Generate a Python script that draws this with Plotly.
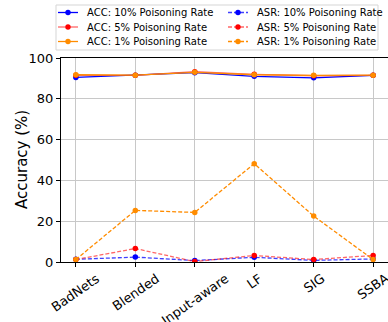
import plotly.graph_objects as go

attacks = ["BadNets", "Blended", "Input-aware", "LF", "SIG", "SSBA"]
acc_10 = [90.5, 91.5, 92.8, 91.0, 90.3, 91.5]
acc_5 = [91.5, 91.5, 93.3, 92.0, 91.3, 91.5]
acc_1 = [91.8, 91.6, 93.0, 91.8, 91.5, 91.6]
asr_10 = [1.3, 2.4, 0.7, 2.3, 0.8, 1.5]
asr_5 = [1.2, 6.6, 0.2, 3.2, 1.2, 3.2]
asr_1 = [1.2, 25.3, 24.3, 48.2, 22.5, 1.2]

series = [
    ("ACC: 10% Poisoning Rate", acc_10, "solid", "rgba(0,0,255,1)", "blue"),
    ("ACC: 5% Poisoning Rate", acc_5, "solid", "rgba(255,0,0,0.6)", "red"),
    ("ACC: 1% Poisoning Rate", acc_1, "solid", "rgba(255,140,0,1)", "darkorange"),
    ("ASR: 10% Poisoning Rate", asr_10, "dash", "rgba(0,0,255,0.75)", "blue"),
    ("ASR: 5% Poisoning Rate", asr_5, "dash", "rgba(255,0,0,0.6)", "red"),
    ("ASR: 1% Poisoning Rate", asr_1, "dash", "rgba(255,140,0,1)", "darkorange"),
]
DASH = "4px,2px"

# plot-area geometry in pixels
W, H = 388, 322
ML, MR, MT, MB = 61, 0, 58, 60
PW, PH = W - ML - MR, H - MT - MB


def px_x(p):
    return (p - ML) / PW


def px_y(p):
    return (H - MB - p) / PH


fig = go.Figure()
for name, vals, dash, lc, mc in series:
    fig.add_trace(go.Scatter(
        x=attacks, y=vals, name=name, mode="lines+markers", showlegend=False,
        line=dict(color=lc, width=1.3, dash=dash if dash == "solid" else DASH),
        marker=dict(color=mc, size=5.5),
    ))

# centred, rotated category labels (matplotlib-style)
for a in attacks:
    fig.add_annotation(
        x=a, xref="x", y=0, yref="paper", yanchor="top", xanchor="center",
        yshift=-6, text=a, textangle=-35, showarrow=False,
        font=dict(size=13, family="DejaVu Sans", color="black"),
    )

# y-axis title
fig.add_annotation(
    x=px_x(22), y=0.5, xref="paper", yref="paper", xanchor="center", yanchor="middle",
    text="Accuracy (%)", textangle=-90, showarrow=False,
    font=dict(size=15, family="DejaVu Sans", color="black"),
)

# legend box (two columns, three rows)
shapes = [dict(type="rect", xref="paper", yref="paper",
               x0=px_x(56), x1=px_x(378), y0=px_y(50), y1=px_y(5),
               line=dict(color="#d5d5d5", width=1), fillcolor="white", layer="above")]
row_y = [12.5, 27, 41.5]
col_x = [58, 228]
for i, (name, vals, dash, lc, mc) in enumerate(series):
    col, row = divmod(i, 3)
    x0 = col_x[col]
    y = row_y[row]
    shapes.append(dict(type="line", xref="paper", yref="paper",
                       x0=px_x(x0), x1=px_x(x0 + 20), y0=px_y(y), y1=px_y(y),
                       line=dict(color=lc, width=1.3, dash=dash if dash == "solid" else DASH),
                       layer="above"))
    shapes.append(dict(type="circle", xref="paper", yref="paper",
                       x0=px_x(x0 + 7.3), x1=px_x(x0 + 12.7), y0=px_y(y + 2.7), y1=px_y(y - 2.7),
                       line=dict(color=mc, width=0), fillcolor=mc, layer="above"))
    fig.add_annotation(
        x=px_x(x0 + 27), y=px_y(y), xref="paper", yref="paper",
        xanchor="left", yanchor="middle", text=name, showarrow=False,
        font=dict(size=10, family="DejaVu Sans", color="black"),
    )

fig.update_layout(
    width=W, height=H, shapes=shapes, showlegend=False,
    margin=dict(l=ML, r=MR, t=MT, b=MB, pad=0, autoexpand=False),
    paper_bgcolor="white", plot_bgcolor="white",
    font=dict(family="DejaVu Sans", color="black"),
    xaxis=dict(
        type="category", range=[-0.25, 5.25],
        showticklabels=False, automargin=False,
        showgrid=True, gridcolor="#c8c8c8", gridwidth=1,
        showline=True, linecolor="black", linewidth=1, mirror=True,
        ticks="outside", ticklen=4, tickcolor="black",
    ),
    yaxis=dict(
        range=[0, 100], tickvals=[0, 20, 40, 60, 80, 100], automargin=False,
        showgrid=True, gridcolor="#c8c8c8", gridwidth=1,
        showline=True, linecolor="black", linewidth=1, mirror=True,
        ticks="outside", ticklen=4, tickcolor="black",
        tickfont=dict(size=13), zeroline=False,
    ),
)

fig.write_html("out.html", config={"displayModeBar": False},
               post_script="document.body.style.margin='0px';")
